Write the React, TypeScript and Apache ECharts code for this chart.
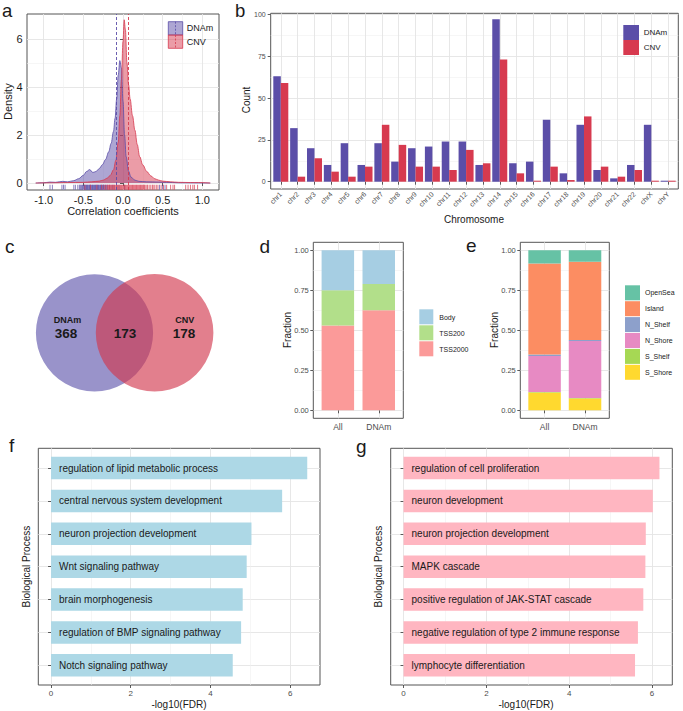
import React, { useEffect, useRef } from 'react';
import * as echarts from 'echarts';

const FONT = '"Liberation Sans", Arial, Helvetica, sans-serif';
const GRID_MAJOR = '#e4e4e4';
const GRID_MINOR = '#f0f0f0';
const TICK = '#333333';
const BORDER = '#555555';
const TEXT_DARK = '#1a1a1a';
const TEXT_AXIS = '#4d4d4d';
const PURPLE = '#5b4ea8';
const RED = '#d73a4f';

// ---------- Panel a: density of correlation coefficients ----------
const dnamDensity: [number, number][] = [
  [-1.1, 0.0], [-1.0, 0.01], [-0.92, 0.04], [-0.85, 0.03], [-0.76, 0.07], [-0.7, 0.05],
  [-0.62, 0.1], [-0.56, 0.18], [-0.5, 0.32], [-0.46, 0.48], [-0.42, 0.56], [-0.38, 0.44],
  [-0.34, 0.48], [-0.3, 0.6], [-0.26, 0.76], [-0.22, 0.98], [-0.18, 1.3], [-0.15, 1.65],
  [-0.12, 2.15], [-0.1, 2.7], [-0.08, 3.5], [-0.06, 4.5], [-0.04, 5.1], [-0.02, 4.8],
  [0.0, 3.4], [0.02, 2.0], [0.04, 1.1], [0.07, 0.5], [0.1, 0.25], [0.15, 0.12], [0.2, 0.07],
  [0.3, 0.05], [0.45, 0.04], [0.55, 0.03], [0.7, 0.01], [1.1, 0.0],
];
const cnvDensity: [number, number][] = [
  [-1.1, 0.0], [-0.9, 0.01], [-0.7, 0.02], [-0.5, 0.03], [-0.4, 0.05], [-0.3, 0.08],
  [-0.25, 0.12], [-0.2, 0.2], [-0.16, 0.32], [-0.12, 0.55], [-0.09, 0.95], [-0.06, 1.7],
  [-0.04, 2.8], [-0.02, 4.3], [0.0, 5.9], [0.015, 6.8], [0.03, 6.4], [0.05, 5.0], [0.07, 4.1],
  [0.09, 3.5], [0.12, 2.8], [0.15, 2.2], [0.18, 1.6], [0.21, 1.1], [0.25, 0.75], [0.3, 0.48],
  [0.35, 0.3], [0.4, 0.18], [0.45, 0.12], [0.5, 0.08], [0.6, 0.05], [0.7, 0.03], [0.85, 0.02],
  [0.95, 0.02], [1.1, 0.0],
];
const dnamRug = [
  -0.92, -0.89, -0.77, -0.75, -0.73, -0.62, -0.6, -0.57, -0.55, -0.54, -0.53, -0.52, -0.51, -0.5,
  -0.49, -0.485, -0.48, -0.47, -0.465, -0.46, -0.45, -0.445, -0.44, -0.43, -0.425, -0.42, -0.41,
  -0.405, -0.4, -0.39, -0.385, -0.38, -0.37, -0.365, -0.36, -0.35, -0.345, -0.34, -0.33, -0.325,
  -0.32, -0.31, -0.305, -0.3, -0.29, -0.285, -0.28, -0.27, -0.265, -0.26, -0.25, -0.245, -0.24,
  -0.23, -0.22, -0.21, -0.2, -0.19, -0.17, -0.15, -0.13, -0.11, -0.08, -0.05, 0.02, 0.46, 0.5, 0.53,
];
const cnvRug = [
  -0.48, -0.41, -0.33, -0.27, -0.24, -0.22, -0.2, -0.19, -0.18, -0.17, -0.16, -0.15, -0.14, -0.13,
  -0.12, -0.11, -0.1, -0.09, -0.08, -0.07, -0.06, -0.05, -0.04, -0.03, -0.02, -0.01, 0, 0.01, 0.02,
  0.03, 0.04, 0.05, 0.06, 0.07, 0.08, 0.09, 0.1, 0.11, 0.12, 0.13, 0.14, 0.15, 0.16, 0.17, 0.18,
  0.19, 0.2, 0.21, 0.22, 0.23, 0.24, 0.25, 0.26, 0.27, 0.28, 0.3, 0.31, 0.33, 0.35, 0.37, 0.38, 0.4,
  0.42, 0.44, 0.48, 0.51, 0.55, 0.6, 0.63, 0.65, 0.79, 0.82, 0.85, 0.88, 0.9, 0.94,
];
const dnamMean = -0.09;
const cnvMean = 0.057;
const aXTicks = [-1, -0.5, 0, 0.5, 1];
const aXMinor = [-0.75, -0.25, 0.25, 0.75];
const aYTicks = [0, 2, 4, 6];
const aYMinor = [1, 3, 5];

// ---------- Panel b: counts per chromosome ----------
const chromosomes = [
  'chr1', 'chr2', 'chr3', 'chr4', 'chr5', 'chr6', 'chr7', 'chr8', 'chr9', 'chr10', 'chr11', 'chr12',
  'chr13', 'chr14', 'chr15', 'chr16', 'chr17', 'chr18', 'chr19', 'chr20', 'chr21', 'chr22', 'chrX', 'chrY',
];
const dnamCounts = [63, 32, 20, 10, 23, 10, 23, 12, 20, 21, 24, 24, 10, 97, 11, 12, 37, 5, 34, 7, 2, 10, 34, 0];
const cnvCounts = [59, 3, 14, 6, 3, 9, 34, 22, 9, 9, 7, 19, 11, 73, 5, 0, 9, 1, 39, 9, 3, 7, 0, 0];
const bYTicks = [0, 25, 50, 75, 100];
const bYMinor = [12.5, 37.5, 62.5, 87.5];

// ---------- Panel c: Venn ----------
const vennSets = ['DNAm', 'CNV'];
const vennOnlyDNAm = 368;
const vennBoth = 173;
const vennOnlyCNV = 178;

// ---------- Panel d: gene region fractions ----------
const regionCats = ['All', 'DNAm'];
const dLegend = ['Body', 'TSS200', 'TSS2000'];
const dBody = [0.25, 0.21];
const dTSS200 = [0.22, 0.165];
const dTSS2000 = [0.53, 0.625];
const fracTicks = [0, 0.25, 0.5, 0.75, 1];
const fracMinor = [0.125, 0.375, 0.625, 0.875];

// ---------- Panel e: CpG island context fractions ----------
const eLegend = ['OpenSea', 'Island', 'N_Shelf', 'N_Shore', 'S_Shelf', 'S_Shore'];
const eOpenSea = [0.082, 0.071];
const eIsland = [0.57, 0.49];
const eNShelf = [0.008, 0.006];
const eNShore = [0.225, 0.356];
const eSShelf = [0.003, 0.003];
const eSShore = [0.112, 0.074];

// ---------- Panel f / g: enrichment ----------
const fTerms = [
  'regulation of lipid metabolic process',
  'central nervous system development',
  'neuron projection development',
  'Wnt signaling pathway',
  'brain morphogenesis',
  'regulation of BMP signaling pathway',
  'Notch signaling pathway',
];
const fValues = [6.43, 5.8, 5.03, 4.91, 4.81, 4.77, 4.56];
const gTerms = [
  'regulation of cell proliferation',
  'neuron development',
  'neuron projection development',
  'MAPK cascade',
  'positive regulation of JAK-STAT cascade',
  'negative regulation of type 2 immune response',
  'lymphocyte differentiation',
];
const gValues = [6.18, 6.02, 5.85, 5.84, 5.79, 5.66, 5.59];
const fdrTicks = [0, 2, 4, 6];
const fdrMinor = [1, 3, 5];

// ---------- helpers ----------
function valueAxis(
  grid: number, min: number, max: number, ticks: number[], position: string,
  label: any, gridLine: 'major' | 'minor' | 'none', showTicks = true,
) {
  return {
    type: 'value', gridIndex: grid, min, max, position,
    axisLine: { show: false },
    axisTick: { show: showTicks, customValues: ticks, length: 3, lineStyle: { color: TICK, width: 0.8 } },
    axisLabel: label ? { show: true, customValues: ticks, fontFamily: FONT, ...label } : { show: false },
    splitLine: gridLine === 'none'
      ? { show: false }
      : { show: true, lineStyle: { color: gridLine === 'major' ? GRID_MAJOR : GRID_MINOR, width: gridLine === 'major' ? 0.9 : 0.6 } },
  };
}
const minorAxis = (grid: number, min: number, max: number, ticks: number[], position: string) =>
  valueAxis(grid, min, max, ticks, position, null, 'minor', false);
const hiddenValue = (grid: number, min: number, max: number) => ({ type: 'value', gridIndex: grid, min, max, show: false });
const hiddenCat = (grid: number, data: string[], inverse = false) => ({ type: 'category', gridIndex: grid, data, inverse, show: false });

const frame = { show: true, borderColor: BORDER, borderWidth: 1, backgroundColor: 'transparent', outerBoundsMode: 'none' };
const plain = { show: false, outerBoundsMode: 'none' };

const txt = (text: string, x: number, y: number, size: number, o: any = {}) => ({
  type: 'text', x, y, rotation: o.rot || 0, silent: true, z: 10,
  style: {
    text, fontSize: size, fontFamily: FONT, fontWeight: o.bold ? 'bold' : 'normal',
    fill: o.color || TEXT_DARK, align: o.align || 'center', verticalAlign: 'middle',
  },
});
const box = (x: number, y: number, w: number, h: number, fill: string, stroke?: string) => ({
  type: 'rect', silent: true, z: 10, shape: { x, y, width: w, height: h },
  style: { fill, stroke: stroke || null, lineWidth: stroke ? 0.8 : 0 },
});

function buildOption() {
  const A = { min: -1.21, max: 1.21, ymin: -0.29, ymax: 7.04 };
  const B = { min: 0.4, max: 24.6, ymin: -4.36, ymax: 100.6 };
  const F = { ymin: -0.05, ymax: 1.05 };
  const FX = { min: -0.32, max: 6.75 };
  const GX = { min: -0.31, max: 6.49 };
  const rugY = -0.18;

  const grid = [
    { left: 27, top: 14, width: 192, height: 176, ...frame }, // 0 a
    { left: 270.7, top: 13.3, width: 407.6, height: 175.7, ...frame }, // 1 b frame
    { left: 272.38, top: 13.3, width: 404.24, height: 175.7, ...plain }, // 2 b bars
    { left: 313.3, top: 242.3, width: 90, height: 176, ...frame }, // 3 d frame
    { left: 317.39, top: 242.3, width: 81.82, height: 176, ...plain }, // 4 d bars
    { left: 520.3, top: 242.3, width: 89, height: 176, ...frame }, // 5 e frame
    { left: 524.35, top: 242.3, width: 80.9, height: 176, ...plain }, // 6 e bars
    { left: 38.3, top: 448.3, width: 281.7, height: 236.7, ...frame }, // 7 f frame
    { left: 38.3, top: 451.59, width: 281.7, height: 230.12, ...plain }, // 8 f bars
    { left: 390.7, top: 448.3, width: 281.6, height: 236.7, ...frame }, // 9 g frame
    { left: 390.7, top: 451.59, width: 281.6, height: 230.12, ...plain }, // 10 g bars
  ];

  const smallAxisLabel = { fontSize: 7, color: TEXT_AXIS, margin: 5 };
  const fracLabel = { fontSize: 7.5, color: TEXT_AXIS, margin: 4.5, formatter: (v: number) => v.toFixed(2) };
  const catLabel = { fontSize: 8.5, color: TEXT_AXIS, margin: 4, formatter: (v: number) => regionCats[Math.round(v) - 1] };
  const fdrLabel = { fontSize: 8, color: TEXT_AXIS, margin: 4.5, formatter: (v: number) => String(v) };

  const xAxis = [
    valueAxis(0, A.min, A.max, aXTicks, 'bottom', { fontSize: 11, color: TEXT_DARK, margin: 4.5, formatter: (v: number) => v.toFixed(1) }, 'major'), // 0
    minorAxis(0, A.min, A.max, aXMinor, 'top'), // 1
    valueAxis(1, B.min, B.max, chromosomes.map((_, i) => i + 1), 'bottom',
      { fontSize: 7, color: TEXT_AXIS, margin: 4, rotate: 45, formatter: (v: number) => chromosomes[Math.round(v) - 1] }, 'major'), // 2
    hiddenCat(2, chromosomes), // 3
    valueAxis(3, 0.4, 2.6, [1, 2], 'bottom', catLabel, 'major'), // 4
    hiddenCat(4, regionCats), // 5
    valueAxis(5, 0.4, 2.6, [1, 2], 'bottom', catLabel, 'major'), // 6
    hiddenCat(6, regionCats), // 7
    valueAxis(7, FX.min, FX.max, fdrTicks, 'bottom', fdrLabel, 'major'), // 8
    minorAxis(7, FX.min, FX.max, fdrMinor, 'top'), // 9
    hiddenValue(8, FX.min, FX.max), // 10
    valueAxis(9, GX.min, GX.max, fdrTicks, 'bottom', fdrLabel, 'major'), // 11
    minorAxis(9, GX.min, GX.max, fdrMinor, 'top'), // 12
    hiddenValue(10, GX.min, GX.max), // 13
  ];

  const yAxis = [
    valueAxis(0, A.ymin, A.ymax, aYTicks, 'left', { fontSize: 11, color: TEXT_DARK, margin: 4.5 }, 'major'), // 0
    minorAxis(0, A.ymin, A.ymax, aYMinor, 'right'), // 1
    valueAxis(1, B.ymin, B.ymax, bYTicks, 'left', smallAxisLabel, 'major'), // 2
    minorAxis(1, B.ymin, B.ymax, bYMinor, 'right'), // 3
    hiddenValue(2, B.ymin, B.ymax), // 4
    valueAxis(3, F.ymin, F.ymax, fracTicks, 'left', fracLabel, 'major'), // 5
    minorAxis(3, F.ymin, F.ymax, fracMinor, 'right'), // 6
    hiddenValue(4, F.ymin, F.ymax), // 7
    valueAxis(5, F.ymin, F.ymax, fracTicks, 'left', fracLabel, 'major'), // 8
    minorAxis(5, F.ymin, F.ymax, fracMinor, 'right'), // 9
    hiddenValue(6, F.ymin, F.ymax), // 10
    valueAxis(7, 0.4, 7.6, [1, 2, 3, 4, 5, 6, 7], 'left', null, 'major'), // 11
    hiddenCat(8, fTerms, true), // 12
    valueAxis(9, 0.4, 7.6, [1, 2, 3, 4, 5, 6, 7], 'left', null, 'major'), // 13
    hiddenCat(10, gTerms, true), // 14
  ];

  const densitySeries = (name: string, data: [number, number][], color: string, mean: number) => ({
    type: 'line', name, xAxisIndex: 0, yAxisIndex: 0, data, smooth: 0.35, smoothMonotone: 'x',
    symbol: 'none', silent: true,
    lineStyle: { color, width: 0.8 },
    areaStyle: { color, opacity: 0.5 },
    markLine: {
      silent: true, symbol: 'none', label: { show: false },
      lineStyle: { color, width: 0.9, type: [3, 2] },
      data: [{ xAxis: mean }],
    },
  });
  const rugSeries = (data: number[], color: string) => ({
    type: 'scatter', xAxisIndex: 0, yAxisIndex: 0, silent: true,
    data: data.map((v) => [v, rugY]), symbol: 'rect', symbolSize: [1, 5],
    itemStyle: { color, opacity: 0.7 },
  });
  const stackBar = (name: string, stack: string, xi: number, yi: number, data: number[], color: string) => ({
    type: 'bar', name, stack, xAxisIndex: xi, yAxisIndex: yi, data, barWidth: 32.5,
    silent: true, itemStyle: { color },
  });
  const enrichBar = (xi: number, yi: number, data: number[], color: string) => ({
    type: 'bar', xAxisIndex: xi, yAxisIndex: yi, data, barWidth: 22.5, silent: true,
    itemStyle: { color },
    label: {
      show: true, position: 'insideLeft', distance: 8, formatter: '{b}',
      color: TEXT_DARK, fontSize: 10, fontFamily: FONT,
    },
  });

  const series = [
    densitySeries('DNAm', dnamDensity, PURPLE, dnamMean),
    densitySeries('CNV', cnvDensity, RED, cnvMean),
    rugSeries(dnamRug, PURPLE),
    rugSeries(cnvRug, RED),
    {
      type: 'bar', name: 'DNAm', xAxisIndex: 3, yAxisIndex: 4, data: dnamCounts, barWidth: 7.5,
      barGap: '0%', barMinHeight: 1, silent: true, itemStyle: { color: PURPLE },
    },
    {
      type: 'bar', name: 'CNV', xAxisIndex: 3, yAxisIndex: 4, data: cnvCounts, barWidth: 7.5,
      barGap: '0%', barMinHeight: 1, silent: true, itemStyle: { color: RED },
    },
    stackBar('TSS2000', 'd', 5, 7, dTSS2000, '#fb9a99'),
    stackBar('TSS200', 'd', 5, 7, dTSS200, '#b2df8a'),
    stackBar('Body', 'd', 5, 7, dBody, '#a6cee3'),
    stackBar('S_Shore', 'e', 7, 10, eSShore, '#ffd92f'),
    stackBar('S_Shelf', 'e', 7, 10, eSShelf, '#a6d854'),
    stackBar('N_Shore', 'e', 7, 10, eNShore, '#e78ac3'),
    stackBar('N_Shelf', 'e', 7, 10, eNShelf, '#8da0cb'),
    stackBar('Island', 'e', 7, 10, eIsland, '#fc8d62'),
    stackBar('OpenSea', 'e', 7, 10, eOpenSea, '#66c2a5'),
    enrichBar(10, 12, fValues, '#add8e6'),
    enrichBar(13, 14, gValues, '#ffb6c1'),
  ];

  const dColors: Record<string, string> = { Body: '#a6cee3', TSS200: '#b2df8a', TSS2000: '#fb9a99' };
  const eColors: Record<string, string> = {
    OpenSea: '#66c2a5', Island: '#fc8d62', N_Shelf: '#8da0cb', N_Shore: '#e78ac3', S_Shelf: '#a6d854', S_Shore: '#ffd92f',
  };

  const graphic: any[] = [
    // panel letters
    txt('a', 2, 10.5, 18.5, { align: 'left' }),
    txt('b', 235, 10.5, 18.5, { align: 'left' }),
    txt('c', 5, 246.7, 19, { align: 'left' }),
    txt('d', 259.5, 246.7, 19, { align: 'left' }),
    txt('e', 466, 245, 19, { align: 'left' }),
    txt('f', 9, 445.7, 19, { align: 'left' }),
    txt('g', 356, 446.4, 19, { align: 'left' }),
    // axis titles
    txt('Density', 8, 101.7, 11, { rot: Math.PI / 2 }),
    txt('Correlation coefficients', 123, 211, 11),
    txt('Count', 246, 100, 10, { rot: Math.PI / 2 }),
    txt('Chromosome', 474, 219, 10),
    txt('Fraction', 287, 330, 10, { rot: Math.PI / 2 }),
    txt('Fraction', 494, 330, 10, { rot: Math.PI / 2 }),
    txt('Biological Process', 26, 566.6, 10, { rot: Math.PI / 2 }),
    txt('Biological Process', 378, 566.6, 10, { rot: Math.PI / 2 }),
    txt('-log10(FDR)', 179, 704.5, 10),
    txt('-log10(FDR)', 526, 704.5, 10),
    // legend a
    box(168.3, 21.7, 14.4, 13.3, 'rgba(91,78,168,0.5)', PURPLE),
    box(168.3, 35, 14.4, 13.3, 'rgba(215,58,79,0.5)', RED),
    { type: 'line', silent: true, z: 11, shape: { x1: 175.5, y1: 21.7, x2: 175.5, y2: 35 }, style: { stroke: PURPLE, lineWidth: 0.8, lineDash: [2, 1.5] } },
    { type: 'line', silent: true, z: 11, shape: { x1: 175.5, y1: 35, x2: 175.5, y2: 48.3 }, style: { stroke: RED, lineWidth: 0.8, lineDash: [2, 1.5] } },
    txt('DNAm', 186.7, 28.3, 9, { align: 'left' }),
    txt('CNV', 186.7, 42, 9, { align: 'left' }),
    // legend b
    box(623.3, 25, 15.7, 15, PURPLE),
    box(623.3, 40, 15.7, 15, RED),
    txt('DNAm', 643.7, 32.5, 8, { align: 'left' }),
    txt('CNV', 643.7, 47.5, 8, { align: 'left' }),
    // venn
    { type: 'circle', silent: true, z: 5, shape: { cx: 94.5, cy: 332.8, r: 58.6 }, style: { fill: '#9993ca' } },
    { type: 'circle', silent: true, z: 6, shape: { cx: 154.6, cy: 332.8, r: 58.8 }, style: { fill: 'rgba(210,55,76,0.64)' } },
    txt(vennSets[0], 67.5, 319.6, 9, { bold: true }),
    txt(String(vennOnlyDNAm), 66, 333.2, 13.5, { bold: true }),
    txt(String(vennBoth), 125, 333.2, 13.5, { bold: true }),
    txt(vennSets[1], 184.8, 319.6, 9, { bold: true }),
    txt(String(vennOnlyCNV), 184, 333.2, 13.5, { bold: true }),
  ];
  dLegend.forEach((name, i) => {
    graphic.push(box(419.3, 309.3 + i * 16, 14, 15, dColors[name]));
    graphic.push(txt(name, 439.3, 317 + i * 16, 7, { align: 'left' }));
  });
  eLegend.forEach((name, i) => {
    graphic.push(box(625, 285.3 + i * 15.9, 15, 15, eColors[name]));
    graphic.push(txt(name, 645, 292.8 + i * 15.9, 7, { align: 'left' }));
  });

  return {
    animation: false,
    backgroundColor: '#ffffff',
    textStyle: { fontFamily: FONT },
    grid, xAxis, yAxis, series, graphic,
  };
}

export default function App() {
  const ref = useRef<HTMLDivElement>(null);
  useEffect(() => {
    if (!ref.current) return;
    const chart = echarts.init(ref.current, null, { renderer: 'svg', width: 683, height: 711 });
    chart.setOption(buildOption() as any);
    return () => chart.dispose();
  }, []);
  return (
    <div
      ref={ref}
      style={{ position: 'absolute', left: 0, top: 0, width: 683, height: 711, background: '#fff' }}
    />
  );
}
